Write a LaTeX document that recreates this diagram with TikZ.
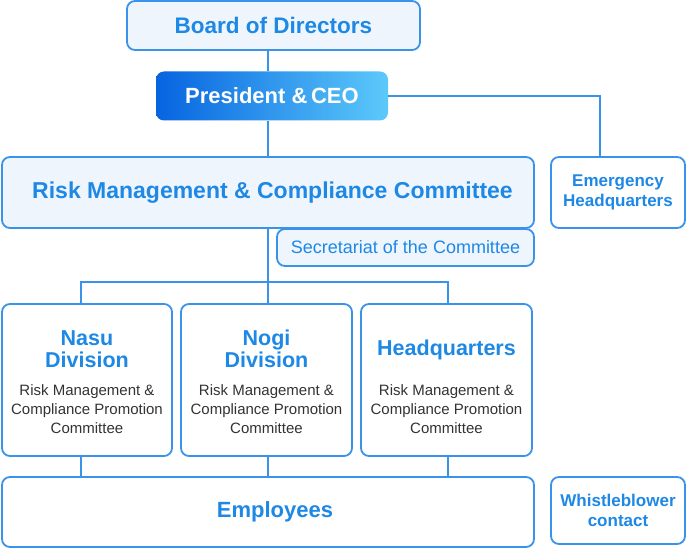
\documentclass[tikz,border=0pt]{standalone}
\usepackage{fontspec}
\setmainfont{Liberation Sans}
\usetikzlibrary{positioning}
\definecolor{lineblue}{HTML}{3A93EB}
\definecolor{textblue}{HTML}{1E88E5}
\definecolor{paleblue}{HTML}{EFF5FD}
\definecolor{deepblue}{HTML}{0664E0}
\definecolor{skyblue}{HTML}{5CC9FA}
\definecolor{unitgray}{HTML}{333333}
\tikzstyle{pale} = [rectangle, rounded corners=8pt, align=center, draw=lineblue, line width=1.8pt, fill=paleblue, text=textblue, inner sep=0pt]
\tikzstyle{blank} = [rectangle, rounded corners=8pt, align=center, draw=lineblue, line width=1.8pt, fill=white, text=textblue, inner sep=0pt]
\tikzstyle{ceo} = [rectangle, rounded corners=8pt, align=center, left color=deepblue, right color=skyblue, text=white, inner sep=0pt]
\tikzstyle{title} = [align=center, text=textblue, inner sep=0pt, font=\fontsize{21.5}{22}\selectfont\bfseries]
\tikzstyle{sub} = [align=center, text=unitgray, inner sep=0pt, font=\fontsize{15}{19}\selectfont]
\tikzstyle{line} = [draw=lineblue, line width=1.8pt]
\begin{document}
\begin{tikzpicture}[x=1pt, y=-1pt]
  \useasboundingbox (0,0) rectangle (686,548);

  \node (board) [pale, minimum width=293pt, minimum height=49pt, font=\fontsize{22.5}{24}\selectfont\bfseries] at (273.5,25.5) {Board of Directors};
  \node (president) [ceo, minimum width=232pt, minimum height=49pt, font=\fontsize{22}{24}\selectfont\bfseries] at (272,96) {President \&\,CEO};
  \node (committee) [pale, minimum width=532pt, minimum height=71pt, font=\fontsize{23}{26}\selectfont\bfseries] at (268,192.5) {\hspace*{9pt}Risk Management \& Compliance Committee};
  \node (emergency) [blank, minimum width=134pt, minimum height=71pt, font=\fontsize{17}{20}\selectfont\bfseries] at (618,192.5) {Emergency\\Headquarters};
  \node (secretariat) [pale, minimum width=257pt, minimum height=37pt, font=\fontsize{18}{20}\selectfont] at (405.5,247.5) {Secretariat of the Committee};

  \node (nasu) [blank, minimum width=170pt, minimum height=152pt] at (87,380) {};
  \node (nogi) [blank, minimum width=171pt, minimum height=152pt] at (266.5,380) {};
  \node (hq) [blank, minimum width=171pt, minimum height=152pt] at (446.5,380) {};

  \node (nasutitle) [title] at ([yshift=31pt]nasu.center) {Nasu\\Division};
  \node (nogititle) [title] at ([yshift=31pt]nogi.center) {Nogi\\Division};
  \node (hqtitle) [title] at ([yshift=30pt]hq.center) {Headquarters};
  \node (nasusub) [sub] at ([yshift=-29pt]nasu.center) {Risk Management \&\\Compliance Promotion\\Committee};
  \node (nogisub) [sub] at ([yshift=-29pt]nogi.center) {Risk Management \&\\Compliance Promotion\\Committee};
  \node (hqsub) [sub] at ([yshift=-29pt]hq.center) {Risk Management \&\\Compliance Promotion\\Committee};

  \node (employees) [blank, minimum width=532pt, minimum height=70pt, font=\fontsize{22}{24}\selectfont\bfseries] at (268,512) {\hspace*{14pt}Employees};
  \node (whistle) [blank, minimum width=134pt, minimum height=67pt, font=\fontsize{17}{20}\selectfont\bfseries] at (618,510.5) {Whistleblower\\contact};

  \coordinate (split) at (268,282);

  % upper chain
  \draw [line] (board.south -| split) -- (president.north -| split);
  \draw [line] (president.south -| split) -- (committee.north -| split);
  \draw [line] (president.east) -| ([xshift=-18pt]emergency.north);

  % down to the units
  \draw [line] (committee.south -| split) -- (split);
  \draw [line] ([xshift=-6pt]nasu.north) |- (split) -| ([xshift=1.5pt]hq.north);
  \draw [line] (split) -- (split |- nogi.north);

  % units to employees
  \draw [line] ([xshift=-6pt]nasu.south) -- ([xshift=-6pt]nasu.south |- employees.north);
  \draw [line] (nogi.south -| split) -- (employees.north -| split);
  \draw [line] ([xshift=1.5pt]hq.south) -- ([xshift=1.5pt]hq.south |- employees.north);
\end{tikzpicture}
\end{document}
